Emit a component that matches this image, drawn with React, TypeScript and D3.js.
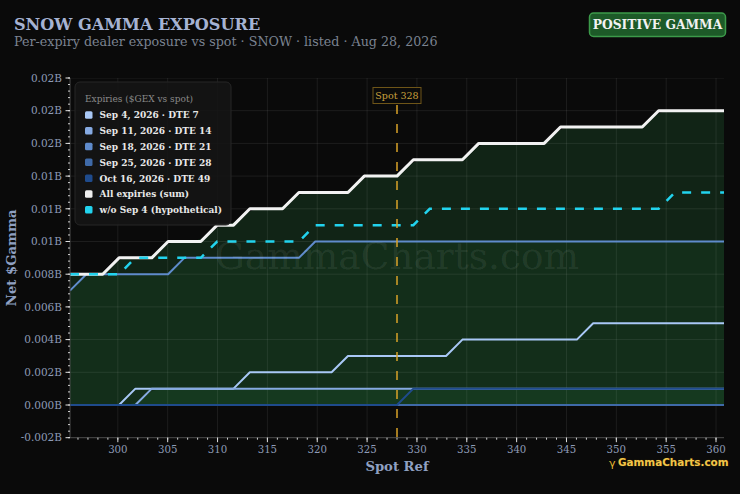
import { useEffect, useRef } from 'react';
import * as d3 from 'd3';

// spot grid (spot 328 ± 10%), values in $B
const spots = [
  295.2, 296.84, 298.48, 300.12, 301.76, 303.4, 305.04, 306.68, 308.32, 309.96, 311.6, 313.24, 314.88, 316.52,
  318.16, 319.8, 321.44, 323.08, 324.72, 326.36, 328, 329.64, 331.28, 332.92, 334.56, 336.2, 337.84, 339.48,
  341.12, 342.76, 344.4, 346.04, 347.68, 349.32, 350.96, 352.6, 354.24, 355.88, 357.52, 359.16, 360.8,
];

const sep4 = [
  0, 0, 0, 0, 0.001, 0.001, 0.001, 0.001, 0.001, 0.001, 0.001, 0.002, 0.002, 0.002, 0.002, 0.002, 0.002, 0.003,
  0.003, 0.003, 0.003, 0.003, 0.003, 0.003, 0.004, 0.004, 0.004, 0.004, 0.004, 0.004, 0.004, 0.004, 0.005, 0.005,
  0.005, 0.005, 0.005, 0.005, 0.005, 0.005, 0.005,
];
const sep11 = [
  0, 0, 0, 0, 0, 0.001, 0.001, 0.001, 0.001, 0.001, 0.001, 0.001, 0.001, 0.001, 0.001, 0.001, 0.001, 0.001, 0.001,
  0.001, 0.001, 0.001, 0.001, 0.001, 0.001, 0.001, 0.001, 0.001, 0.001, 0.001, 0.001, 0.001, 0.001, 0.001, 0.001,
  0.001, 0.001, 0.001, 0.001, 0.001, 0.001,
];
const sep18 = [
  0.007, 0.008, 0.008, 0.008, 0.008, 0.008, 0.008, 0.009, 0.009, 0.009, 0.009, 0.009, 0.009, 0.009, 0.009, 0.01,
  0.01, 0.01, 0.01, 0.01, 0.01, 0.01, 0.01, 0.01, 0.01, 0.01, 0.01, 0.01, 0.01, 0.01, 0.01, 0.01, 0.01, 0.01, 0.01,
  0.01, 0.01, 0.01, 0.01, 0.01, 0.01,
];
const sep25 = [
  0, 0, 0, 0, 0, 0, 0, 0, 0, 0, 0, 0, 0, 0, 0, 0, 0, 0, 0, 0, 0, 0, 0, 0, 0, 0, 0, 0, 0, 0, 0, 0, 0, 0, 0, 0, 0, 0,
  0, 0, 0,
];
const oct16 = [
  0, 0, 0, 0, 0, 0, 0, 0, 0, 0, 0, 0, 0, 0, 0, 0, 0, 0, 0, 0, 0, 0.001, 0.001, 0.001, 0.001, 0.001, 0.001, 0.001,
  0.001, 0.001, 0.001, 0.001, 0.001, 0.001, 0.001, 0.001, 0.001, 0.001, 0.001, 0.001, 0.001,
];
const allExpiries = [
  0.008, 0.008, 0.008, 0.009, 0.009, 0.009, 0.01, 0.01, 0.01, 0.011, 0.011, 0.012, 0.012, 0.012, 0.013, 0.013,
  0.013, 0.013, 0.014, 0.014, 0.014, 0.015, 0.015, 0.015, 0.015, 0.016, 0.016, 0.016, 0.016, 0.016, 0.017, 0.017,
  0.017, 0.017, 0.017, 0.017, 0.018, 0.018, 0.018, 0.018, 0.018,
];
const withoutSep4 = [
  0.008, 0.008, 0.008, 0.008, 0.009, 0.009, 0.009, 0.009, 0.009, 0.01, 0.01, 0.01, 0.01, 0.01, 0.01, 0.011, 0.011,
  0.011, 0.011, 0.011, 0.011, 0.011, 0.012, 0.012, 0.012, 0.012, 0.012, 0.012, 0.012, 0.012, 0.012, 0.012, 0.012,
  0.012, 0.012, 0.012, 0.012, 0.013, 0.013, 0.013, 0.013,
];

const expiryNames = ['Sep 4, 2026 · DTE 7', 'Sep 11, 2026 · DTE 14', 'Sep 18, 2026 · DTE 21', 'Sep 25, 2026 · DTE 28', 'Oct 16, 2026 · DTE 49'];
const expiryColors = ['#a9c8f6', '#86aae2', '#5f8bcb', '#3f6aa8', '#1f4b8c'];
const expiryValues = [sep4, sep11, sep18, sep25, oct16];

const xTicks = [300, 305, 310, 315, 320, 325, 330, 335, 340, 345, 350, 355, 360];
const yTicks = [-0.002, 0, 0.002, 0.004, 0.006, 0.008, 0.01, 0.012, 0.014, 0.016, 0.018, 0.02];
const spotPrice = 328;

const FONT = "'DejaVu Serif', serif";

const fmtB = (v: number) => {
  const a = Math.abs(v);
  if (a < 1e-9) return '0.000B';
  return (a >= 0.0099 ? v.toFixed(2) : v.toFixed(3)) + 'B';
};

export default function App() {
  const svgRef = useRef<SVGSVGElement>(null);

  useEffect(() => {
    if (!svgRef.current) return;
    const width = 740;
    const height = 494;
    const margin = { top: 78, right: 16, bottom: 56, left: 70 };
    const svg = d3.select(svgRef.current);
    svg.selectAll('*').remove();

    const x = d3.scaleLinear().domain([spots[0], spots[spots.length - 1]]).range([margin.left, width - margin.right]);
    const y = d3.scaleLinear().domain([-0.002, 0.02]).range([height - margin.bottom - 0.3, margin.top]);
    const x0 = margin.left;
    const x1 = width - margin.right;
    const yb = y(-0.002);
    const yt = y(0.02);

    svg.append('rect').attr('width', width).attr('height', height).attr('fill', '#0a0a0a');

    // titles
    svg.append('text').attr('x', 14).attr('y', 30).style('font-family', FONT).style('font-weight', 700)
      .style('font-size', '16.1px').style('fill', '#a6b3d3').text('SNOW GAMMA EXPOSURE');
    svg.append('text').attr('x', 14).attr('y', 46).style('font-family', FONT)
      .style('font-size', '12.7px').style('fill', '#7b8391')
      .text('Per-expiry dealer exposure vs spot · SNOW · listed · Aug 28, 2026');

    // badge
    svg.append('rect').attr('x', 589.5).attr('y', 13).attr('width', 136).attr('height', 23.5).attr('rx', 4)
      .attr('fill', '#1d5a28').attr('stroke', '#3c9a4a').attr('stroke-width', 1.5);
    svg.append('text').attr('x', 657.5).attr('y', 29).attr('text-anchor', 'middle').style('font-family', FONT)
      .style('font-weight', 700).style('font-size', '12.3px').style('fill', '#f2f2f2').text('POSITIVE GAMMA');

    const defs = svg.append('defs');
    defs.append('clipPath').attr('id', 'plot-clip').append('rect')
      .attr('x', x0).attr('y', yt).attr('width', x1 - x0).attr('height', yb - yt);

    const plot = svg.append('g').attr('clip-path', 'url(#plot-clip)');

    // fills
    const area = (vals: number[]) =>
      d3.area<number>().x((_, i) => x(spots[i])).y0(y(0)).y1((d) => y(d)).curve(d3.curveBasis)(vals) || '';
    plot.append('path').attr('d', area(allExpiries)).attr('fill', '#2c8c46').attr('fill-opacity', 0.2);
    plot.append('path').attr('d', area(sep18)).attr('fill', '#2c8c46').attr('fill-opacity', 0.1);
    plot.append('path').attr('d', area(sep11)).attr('fill', '#2c8c46').attr('fill-opacity', 0.12);

    // grid
    const grid = plot.append('g');
    grid.selectAll('line.gx').data(xTicks).enter().append('line')
      .attr('x1', (d) => x(d)).attr('x2', (d) => x(d)).attr('y1', yt).attr('y2', yb)
      .attr('stroke', '#ffffff').attr('stroke-opacity', 0.08);
    grid.selectAll('line.gy').data(yTicks).enter().append('line')
      .attr('x1', x0).attr('x2', x1).attr('y1', (d) => y(d)).attr('y2', (d) => y(d))
      .attr('stroke', '#ffffff').attr('stroke-opacity', 0.08);

    // watermark
    svg.append('text').attr('x', (x0 + x1) / 2).attr('y', 269).attr('text-anchor', 'middle')
      .style('font-family', FONT).style('font-size', '37.5px').style('fill', '#ffffff').style('fill-opacity', 0.08)
      .text('GammaCharts.com');

    const line = d3.line<number>().x((_, i) => x(spots[i])).y((d) => y(d));

    expiryValues.forEach((vals, k) => {
      plot.append('path').attr('d', line(vals) || '').attr('fill', 'none')
        .attr('stroke', expiryColors[k]).attr('stroke-width', 2).attr('stroke-linejoin', 'round');
    });
    plot.append('path').attr('d', line(allExpiries) || '').attr('fill', 'none')
      .attr('stroke', '#f2f2f2').attr('stroke-width', 3).attr('stroke-linejoin', 'round');
    plot.append('path').attr('d', line(withoutSep4) || '').attr('fill', 'none')
      .attr('stroke', '#22d3ee').attr('stroke-width', 2.5).attr('stroke-dasharray', '9,10');

    // spot marker
    const sx = x(spotPrice);
    svg.append('line').attr('x1', sx).attr('x2', sx).attr('y1', 105).attr('y2', yb)
      .attr('stroke', '#d9a228').attr('stroke-width', 1.5).attr('stroke-dasharray', '9,10');
    svg.append('rect').attr('x', sx - 24).attr('y', 87.5).attr('width', 48).attr('height', 16)
      .attr('fill', '#0a0a0a').attr('fill-opacity', 0.8).attr('stroke', '#6e5518').attr('stroke-width', 1);
    svg.append('text').attr('x', sx).attr('y', 99).attr('text-anchor', 'middle').style('font-family', FONT)
      .style('font-size', '9.5px').style('fill', '#c9a03c').text(`Spot ${spotPrice}`);

    // axes
    const axes = svg.append('g');
    axes.append('line').attr('x1', x0).attr('x2', x0).attr('y1', yt).attr('y2', yb).attr('stroke', '#4a4a4a');
    axes.append('line').attr('x1', x0).attr('x2', x1).attr('y1', yb).attr('y2', yb).attr('stroke', '#4a4a4a');

    const yMinor = d3.range(0, 56).map((i) => -0.002 + i * 0.0004).filter((v) => v <= 0.02001);
    axes.selectAll('line.ym').data(yMinor).enter().append('line')
      .attr('x1', x0 - 2).attr('x2', x0).attr('y1', (d) => y(d)).attr('y2', (d) => y(d))
      .attr('stroke', '#d0d0d0').attr('stroke-width', 1);
    axes.selectAll('line.yM').data(yTicks).enter().append('line')
      .attr('x1', x0 - 4.5).attr('x2', x0).attr('y1', (d) => y(d)).attr('y2', (d) => y(d))
      .attr('stroke', '#e0e0e0').attr('stroke-width', 1);
    axes.selectAll('text.yl').data(yTicks).enter().append('text')
      .attr('x', x0 - 8).attr('y', (d) => y(d) + 3.7).attr('text-anchor', 'end')
      .style('font-family', FONT).style('font-size', '10.5px').style('fill', '#8e9bb6').text((d) => fmtB(d));

    const xMinor = d3.range(296, 361);
    axes.selectAll('line.xm').data(xMinor).enter().append('line')
      .attr('x1', (d) => x(d)).attr('x2', (d) => x(d)).attr('y1', yb).attr('y2', yb + 2)
      .attr('stroke', '#d0d0d0').attr('stroke-width', 1);
    axes.selectAll('line.xM').data(xTicks).enter().append('line')
      .attr('x1', (d) => x(d)).attr('x2', (d) => x(d)).attr('y1', yb).attr('y2', yb + 4.5)
      .attr('stroke', '#e0e0e0').attr('stroke-width', 1);
    axes.selectAll('text.xl').data(xTicks).enter().append('text')
      .attr('x', (d) => x(d)).attr('y', yb + 15).attr('text-anchor', 'middle')
      .style('font-family', FONT).style('font-size', '10.2px').style('fill', '#8e9bb6').text((d) => d);

    svg.append('text').attr('x', (x0 + x1) / 2).attr('y', 471).attr('text-anchor', 'middle')
      .style('font-family', FONT).style('font-weight', 700).style('font-size', '13.2px').style('fill', '#8fa0c2')
      .text('Spot Ref');
    svg.append('text').attr('transform', `translate(15.5, ${(yt + yb) / 2}) rotate(-90)`).attr('text-anchor', 'middle')
      .style('font-family', FONT).style('font-weight', 700).style('font-size', '13.2px').style('fill', '#8fa0c2')
      .text('Net $Gamma');

    // legend
    const lg = svg.append('g').attr('transform', 'translate(75, 82)');
    lg.append('rect').attr('width', 156).attr('height', 143).attr('rx', 5)
      .attr('fill', '#151515').attr('fill-opacity', 0.92).attr('stroke', '#262626');
    lg.append('text').attr('x', 10).attr('y', 19.5).style('font-family', FONT).style('font-size', '9px')
      .style('fill', '#8a8a8a').text('Expiries ($GEX vs spot)');
    const items = [
      ...expiryNames.map((n, k) => ({ name: n, color: expiryColors[k] })),
      { name: 'All expiries (sum)', color: '#eeeeee' },
      { name: 'w/o Sep 4 (hypothetical)', color: '#22d3ee' },
    ];
    const rows = lg.selectAll('g.item').data(items).enter().append('g')
      .attr('transform', (_, i) => `translate(10, ${33 + i * 15.8})`);
    rows.append('rect').attr('x', 0).attr('y', -3.8).attr('width', 7.5).attr('height', 7.5).attr('rx', 1.5)
      .attr('fill', (d) => d.color);
    rows.append('text').attr('x', 14.5).attr('y', 3.3).style('font-family', FONT).style('font-weight', 700)
      .style('font-size', '9px').style('fill', '#e8e8e8').text((d) => d.name);

    // logo
    const logo = svg.append('g');
    logo.append('text').attr('x', 609).attr('y', 467).style('font-family', "'DejaVu Sans', sans-serif")
      .style('font-size', '11px').style('fill', '#e8b830').text('γ');
    logo.append('text').attr('x', 618).attr('y', 465.5).style('font-family', "'DejaVu Sans', sans-serif")
      .style('font-weight', 700).style('font-size', '10.4px').style('fill', '#f3c64a')
      .style('stroke', '#3a2a00').style('stroke-width', 0.6).style('paint-order', 'stroke')
      .text('GammaCharts.com');
  }, []);

  return (
    <div style={{ width: 740, height: 494 }}>
      <style>{'body{margin:0;background:#0a0a0a}'}</style>
      <svg ref={svgRef} width={740} height={494} style={{ display: 'block' }} />
    </div>
  );
}
